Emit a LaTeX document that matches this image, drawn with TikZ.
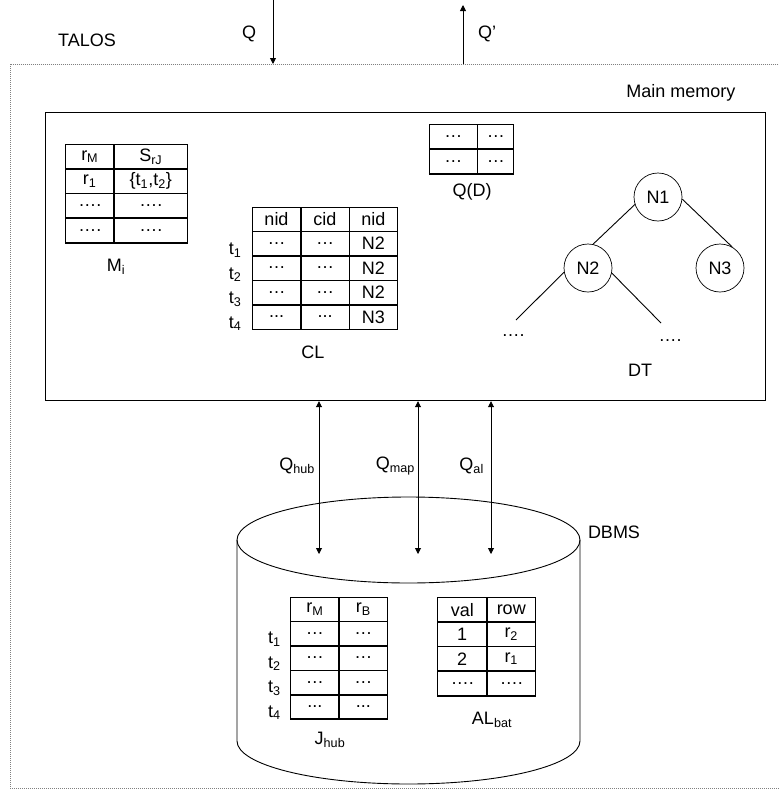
\documentclass[tikz,border=0pt]{standalone}
\usepackage{fontspec}
\setmainfont{Liberation Sans}
\usetikzlibrary{matrix,arrows.meta}

\begin{document}
\begin{tikzpicture}[x=1pt, y=-1pt, font=\fontsize{18}{21}\selectfont,
  tbl/.style={matrix of nodes, inner sep=0pt, outer sep=0pt,
              column sep=-\pgflinewidth, row sep=-\pgflinewidth,
              nodes={draw, line width=0.9pt, minimum width=48pt,
                     minimum height=24pt, inner sep=0pt, anchor=center}},
  lbl/.style={inner sep=1pt},
  knot/.style={draw, circle, minimum size=48pt, inner sep=0pt, line width=0.7pt},
  tip/.style={Triangle[length=6pt, width=6pt]},
  arr/.style={-{Triangle[length=6pt, width=6pt]}, line width=0.9pt},
  darr/.style={{Triangle[length=6pt, width=6pt]}-{Triangle[length=6pt, width=6pt]}, line width=0.9pt},
  outline/.style={draw, gray, line width=0.6pt, dash pattern=on 1pt off 1pt}
]
  \useasboundingbox (0,0) rectangle (779,798);

  % TALOS frame and main memory
  \node[outline, minimum width=790pt, minimum height=724pt, anchor=north west,
        inner sep=0pt] (talos) at (10,64) {};
  \node[draw, line width=1.2pt, minimum width=720pt, minimum height=288pt,
        anchor=north west, inner sep=0pt] (mem) at (45,112) {};
  \node[lbl] (talosl) at (87,40) {TALOS};
  \node[lbl] (meml) at (681,93) {Main memory};

  \coordinate (qsrc) at (273,0);
  \coordinate (qdst) at (463,5);
  \draw[arr] (qsrc) -- (qsrc |- talos.north);
  \draw[arr] (qdst |- talos.north) -- (qdst);
  \node[lbl] (ql) at (249,34) {Q};
  \node[lbl] (qpl) at (487,34) {Q'};

  % tables in main memory
  \matrix (mi) [tbl, column 2/.style={nodes={minimum width=73pt}}] at (126.5,193.5) {
    r\textsubscript{M} & S\textsubscript{rJ} \\
    r\textsubscript{1} & \{t\textsubscript{1},t\textsubscript{2}\} \\
    \dots. & \dots. \\
    \dots. & \dots. \\
  };
  \draw[line width=2pt] (mi.south west) -- (mi.south east);
  \node[lbl] (mil) at (116,267) {M\textsubscript{i}};

  \matrix (cl) [tbl] at (325,268) {
    nid & cid & nid \\
    \dots & \dots & N2 \\
    \dots & \dots & N2 \\
    \dots & \dots & N2 \\
    ... & ... & N3 \\
  };
  \foreach \i [evaluate=\i as \r using int(\i+1)] in {1,...,4}
    \node[lbl, anchor=base east] (clt\i) at ([shift={(-10pt,1pt)}]cl-\r-1.south west)
      {t\textsubscript{\i}};
  \node[lbl] (cll) at (313,352) {CL};

  \matrix (qd) [tbl, column 2/.style={nodes={minimum width=36pt}}] at (471.5,149) {
    \dots & \dots \\
    \dots & \dots \\
  };
  \draw[line width=2pt] (qd.south west) -- (qd.south east);
  \node[lbl] (qdl) at (472,192) {Q(D)};

  % decision tree
  \node[knot] (n1) at (658,197) {N1};
  \node[knot] (n2) at (588,268) {N2};
  \node[knot] (n3) at (720,268) {N3};
  \coordinate (n2a) at (516,320);
  \coordinate (n2b) at (661,323);
  \draw[line width=0.9pt] (n1.198) -- (n2.78);
  \draw[line width=0.9pt] (n1.-5) -- (n3.60);
  \draw[line width=0.9pt] (n2.190) -- (n2a);
  \draw[line width=0.9pt] (n2.-12) -- (n2b);
  \node[lbl, anchor=base] (dotl) at (513,336) {\dots.};
  \node[lbl, anchor=base] (dotr) at (670,341) {\dots.};
  \node[lbl] (dtl) at (640,370) {DT};

  % DBMS cylinder
  \draw[line width=0.9pt] (408.5,540) ellipse [x radius=171.5, y radius=43];
  \draw[line width=0.9pt] (237,540) -- (237,741)
    arc[start angle=180, end angle=0, x radius=171.5, y radius=43] -- (580,540);
  \node[lbl] (dbmsl) at (614,532) {DBMS};

  % queries between memory and DBMS
  \coordinate (hub) at (319,554);
  \coordinate (map) at (418,554);
  \coordinate (al) at (491,554);
  \draw[darr] (hub |- mem.south) -- (hub);
  \draw[darr] (map |- mem.south) -- (map);
  \draw[darr] (al |- mem.south) -- (al);
  \node[lbl, anchor=east] (hubl) at (316,466) {Q\textsubscript{hub}};
  \node[lbl, anchor=east] (mapl) at (416,466) {Q\textsubscript{map}};
  \node[lbl, anchor=east] (all) at (485,466) {Q\textsubscript{al}};

  % tables in DBMS
  \matrix (jh) [tbl] at (339,658) {
    r\textsubscript{M} & r\textsubscript{B} \\
    \dots & \dots \\
    \dots & \dots \\
    \dots & \dots \\
    ... & ... \\
  };
  \draw[line width=2pt] (jh.south west) -- (jh.south east);
  \foreach \i [evaluate=\i as \r using int(\i+1)] in {1,...,4}
    \node[lbl, anchor=base east] (jht\i) at ([shift={(-9pt,2pt)}]jh-\r-1.south west)
      {t\textsubscript{\i}};
  \node[lbl] (jhl) at (330,740) {J\textsubscript{hub}};

  \matrix (ab) [tbl, column 1/.style={nodes={minimum width=49pt}}] at (486.5,646.5) {
    val & row \\
    1 & r\textsubscript{2} \\
    2 & r\textsubscript{1} \\
    \dots. & \dots. \\
  };
  \draw[line width=2pt] (ab.south west) -- (ab.south east);
  \node[lbl] (abl) at (492,720) {AL\textsubscript{bat}};
\end{tikzpicture}
\end{document}
